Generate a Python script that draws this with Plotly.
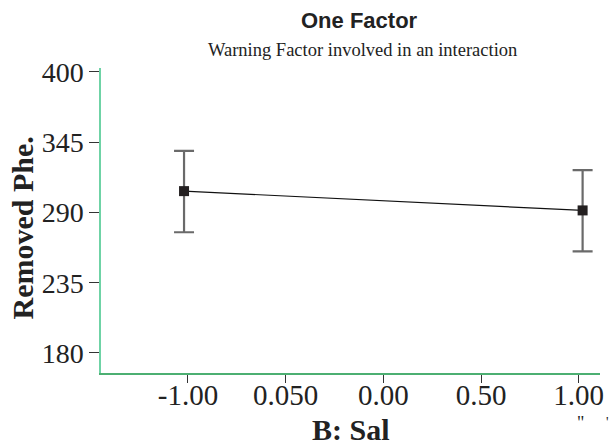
import plotly.graph_objects as go

# data
x_levels = [-1.02, 1.02]
removed_phe = [306.7, 291.6]
err_upper = [31.5, 31.5]
err_lower = [32.2, 32.0]
x_tickvals = [-1.0, -0.5, 0.0, 0.5, 1.0]
x_ticktext = ["-1.00", "0.050", "0.00", "0.50", "1.00"]
y_tickvals = [180, 235, 290, 345, 400]

SERIF = "Liberation Serif, Times New Roman, serif"
SANS = "Liberation Sans, Arial, sans-serif"

fig = go.Figure()
fig.add_trace(go.Scatter(
    x=x_levels, y=removed_phe, mode="lines+markers",
    line=dict(color="#111111", width=1.2),
    marker=dict(symbol="square", size=10, color="#231f20"),
    error_y=dict(type="data", symmetric=False, array=err_upper, arrayminus=err_lower,
                 color="#6a6a6a", thickness=2.2, width=10),
    showlegend=False,
))

fig.update_layout(
    width=616, height=448,
    margin=dict(l=101, r=13, t=68, b=75),
    plot_bgcolor="white", paper_bgcolor="white",
    xaxis=dict(range=[-1.445, 1.109], tickvals=x_tickvals, ticktext=x_ticktext,
               showgrid=False, zeroline=False, showline=True, linecolor="#4caf72", linewidth=1.5,
               ticks="outside", ticklen=8, tickcolor="#333333", ticklabelstandoff=-13,
               tickfont=dict(family=SERIF, size=29, color="#222222")),
    yaxis=dict(range=[164.3, 403.1], tickvals=y_tickvals,
               showgrid=False, zeroline=False, showline=True, linecolor="#6fd3a6", linewidth=1.5,
               ticks="outside", ticklen=10, tickcolor="#333333",
               tickfont=dict(family=SERIF, size=28, color="#222222")),
    annotations=[
        dict(text="<b>One Factor</b>", x=361, y=21, showarrow=False,
             font=dict(family=SANS, size=22, color="#222222")),
        dict(text="Warning Factor involved in an interaction", x=364, y=50, showarrow=False,
             font=dict(family=SERIF, size=18.5, color="#222222")),
        dict(text="<b>B: Sal</b>", x=352, y=430, showarrow=False,
             font=dict(family=SERIF, size=30, color="#222222")),
        dict(text="<b>Removed Phe.</b>", x=22, y=228, showarrow=False, textangle=-90,
             font=dict(family=SERIF, size=30, color="#222222")),
        dict(text='"', x=583, y=423, showarrow=False,
             font=dict(family=SERIF, size=18, color="#222222")),
        dict(text="'", x=611, y=422, showarrow=False,
             font=dict(family=SERIF, size=14, color="#222222")),
    ],
)

# convert pixel-positioned annotations to paper coordinates
W, H = 616, 448
l, r, t, b = 101, 13, 68, 75
pw, ph = W - l - r, H - t - b
for a in fig.layout.annotations:
    px, py = a.x, a.y
    a.x = (px - l) / pw
    a.y = 1 - (py - t) / ph
    a.xref = "paper"
    a.yref = "paper"
    a.xanchor = "center"
    a.yanchor = "middle"

fig.write_html("out.html", config={"displayModeBar": False})

# remove default page margin so the figure sits at the window's corner
with open("out.html", "r", encoding="utf-8") as f:
    html = f.read()
html = html.replace("<head>", "<head><style>html,body{margin:0;padding:0;overflow:hidden;}</style>", 1)
with open("out.html", "w", encoding="utf-8") as f:
    f.write(html)
